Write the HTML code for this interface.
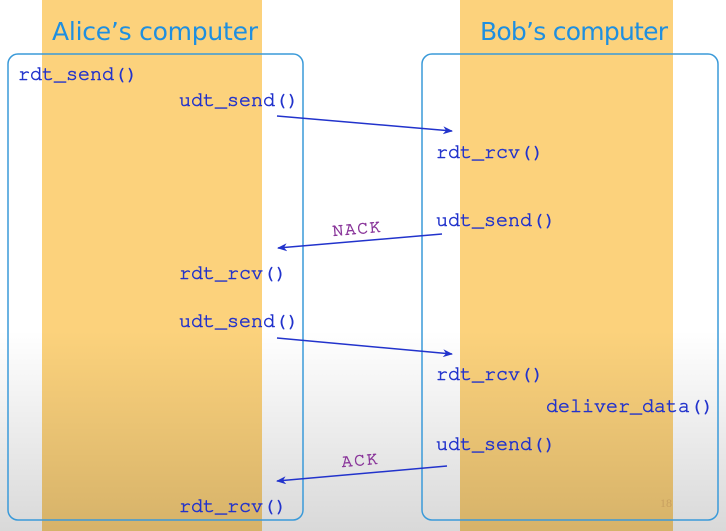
<!DOCTYPE html>
<html><head><meta charset="utf-8"><style>
html,body{margin:0;padding:0;width:726px;height:531px;overflow:hidden;background:#fff}
</style></head><body>
<svg width="726" height="531" xmlns="http://www.w3.org/2000/svg">
<defs>
<linearGradient id="g" x1="0" y1="0" x2="0" y2="1">
<stop offset="0" stop-color="#000" stop-opacity="0"/>
<stop offset="1" stop-color="#000" stop-opacity="0.15"/>
</linearGradient>
<marker id="a" markerWidth="10" markerHeight="8" refX="9" refY="4" orient="auto" markerUnits="userSpaceOnUse">
<path d="M0,0 L10,4 L0,8 L3,4 Z" fill="#2233cc"/>
</marker>
</defs>
<rect x="0" y="0" width="726" height="531" fill="#fff"/>
<rect x="42" y="0" width="220" height="531" fill="#fcd27c"/>
<rect x="460" y="0" width="213" height="531" fill="#fcd27c"/>
<rect x="0" y="330" width="726" height="201" fill="url(#g)"/>
<rect x="8" y="54" width="295" height="466" rx="10" fill="none" stroke="#3a9ad9" stroke-width="1.5"/>
<rect x="422" y="54" width="296" height="466" rx="10" fill="none" stroke="#3a9ad9" stroke-width="1.5"/>
<g font-family="'Comic Sans MS','DejaVu Sans',sans-serif" font-size="25" fill="#1e8fe0">
<text x="52" y="40" textLength="206">Alice’s computer</text>
<text x="480" y="40" textLength="188">Bob’s computer</text>
</g>
<g font-family="'Nimbus Mono PS','Nimbus Mono L','FreeMono','Courier New',Courier,'Liberation Mono',monospace" font-size="20" fill="#2233cc" stroke="#2233cc" stroke-width="0.6">
<text x="18" y="80" textLength="120">rdt_send()</text>
<text x="179" y="106" textLength="120">udt_send()</text>
<text x="436" y="158" textLength="108">rdt_rcv()</text>
<text x="436" y="226" textLength="120">udt_send()</text>
<text x="179" y="279" textLength="108">rdt_rcv()</text>
<text x="179" y="327" textLength="120">udt_send()</text>
<text x="436" y="380" textLength="108">rdt_rcv()</text>
<text x="546" y="412" textLength="168">deliver_data()</text>
<text x="436" y="450" textLength="120">udt_send()</text>
<text x="179" y="512" textLength="108">rdt_rcv()</text>
</g>
<g stroke="#2233cc" stroke-width="1.5" fill="none">
<line x1="277" y1="116" x2="452" y2="131" marker-end="url(#a)"/>
<line x1="442" y1="234" x2="278" y2="248" marker-end="url(#a)"/>
<line x1="277" y1="338" x2="452" y2="354" marker-end="url(#a)"/>
<line x1="447" y1="466" x2="277" y2="481" marker-end="url(#a)"/>
</g>
<g font-family="'Nimbus Mono PS','FreeMono','Courier New',Courier,'Liberation Mono',monospace" font-size="18" fill="#883399" stroke="#883399" stroke-width="0.5">
<text x="333" y="236" transform="rotate(-5 333 236)" textLength="48">NACK</text>
<text x="342" y="467" transform="rotate(-5 342 467)" textLength="36">ACK</text>
</g>
<text x="660" y="507" font-family="'Liberation Serif',serif" font-size="12" fill="#c8a060">18</text>
</svg>
</body></html>
